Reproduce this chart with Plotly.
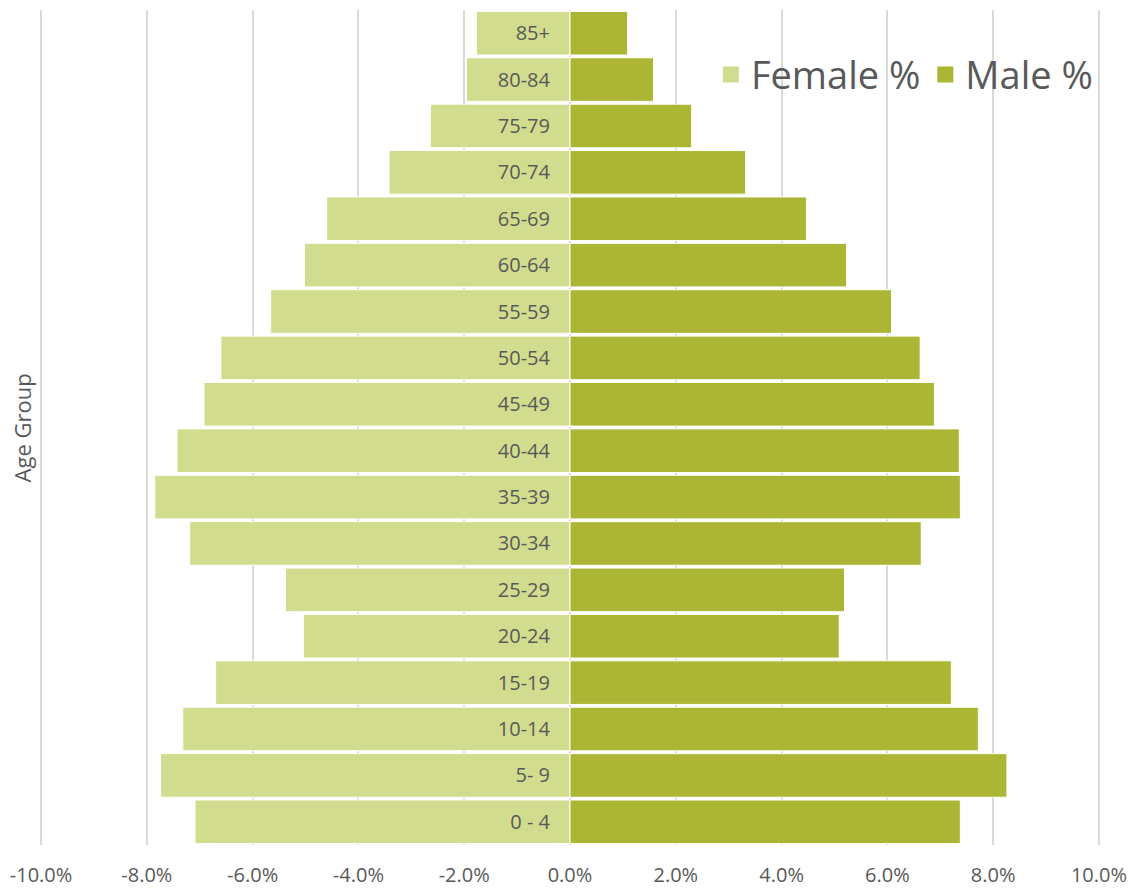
import plotly.graph_objects as go

COLORS = {
    "female": "#D2DC8E",
    "male": "#ABB634",
    "text": "#595959",
    "grid": "#D9D9D9",
}

age_groups = ["0 - 4", "5- 9", "10-14", "15-19", "20-24", "25-29", "30-34", "35-39",
              "40-44", "45-49", "50-54", "55-59", "60-64", "65-69", "70-74", "75-79",
              "80-84", "85+"]
female_pct = [7.09, 7.74, 7.32, 6.70, 5.04, 5.38, 7.19, 7.85, 7.43, 6.92, 6.60, 5.66,
              5.02, 4.60, 3.42, 2.64, 1.96, 1.77]
male_pct = [7.38, 8.26, 7.72, 7.21, 5.09, 5.19, 6.64, 7.38, 7.36, 6.89, 6.62, 6.08,
            5.23, 4.47, 3.32, 2.30, 1.58, 1.09]
x_ticks = [-10, -8, -6, -4, -2, 0, 2, 4, 6, 8, 10]
x_tick_labels = [f"{t:.1f}%" for t in x_ticks]

fig = go.Figure()

fig.add_trace(go.Bar(
    y=age_groups,
    x=[-v for v in female_pct],
    orientation='h',
    name='Female %',
    showlegend=False,
    marker=dict(color=COLORS['female'], line=dict(color='white', width=1)),
))
fig.add_trace(go.Bar(
    y=age_groups,
    x=male_pct,
    orientation='h',
    name='Male %',
    showlegend=False,
    marker=dict(color=COLORS['male'], line=dict(color='white', width=1)),
))

# Legend entries with large square swatches
for name, key in [('Female %', 'female'), ('Male %', 'male')]:
    fig.add_trace(go.Scatter(
        x=[None], y=[None], mode='markers', name=name,
        marker=dict(symbol='square', size=24, color=COLORS[key]),
    ))

fig.update_layout(
    width=1120,
    height=880,
    barmode='relative',
    bargap=0.06,
    margin=dict(l=32, r=28, t=2, b=43, autoexpand=False),
    paper_bgcolor='white',
    plot_bgcolor='white',
    font=dict(family="Open Sans, sans-serif", color=COLORS['text'], size=19),
    legend=dict(
        orientation='h', x=0.998, y=0.96, xanchor='right', yanchor='top',
        font=dict(size=38, color=COLORS['text']),
        bgcolor='rgba(0,0,0,0)', traceorder='normal',
    ),
    xaxis=dict(
        range=[-10.02, 10.02],
        tickvals=x_ticks,
        ticktext=x_tick_labels,
        showgrid=True,
        gridcolor=COLORS['grid'],
        gridwidth=2,
        zeroline=True,
        zerolinecolor=COLORS['grid'],
        zerolinewidth=2,
        showline=False,
        ticks='',
        automargin=False,
        ticklabelstandoff=16,
        tickfont=dict(size=20, color=COLORS['text']),
    ),
    yaxis=dict(
        categoryorder='array',
        categoryarray=age_groups,
        anchor='free',
        position=0.5,
        showgrid=False,
        showline=False,
        zeroline=False,
        ticks='',
        automargin=False,
        ticklabelstandoff=20,
        tickfont=dict(size=20, color=COLORS['text']),
    ),
    annotations=[dict(
        text='Age Group', xref='paper', yref='paper', x=-0.017, y=0.5,
        xanchor='center', yanchor='middle', textangle=-90, showarrow=False,
        font=dict(size=22, color=COLORS['text']),
    )],
)

fig.write_html("out.html")
